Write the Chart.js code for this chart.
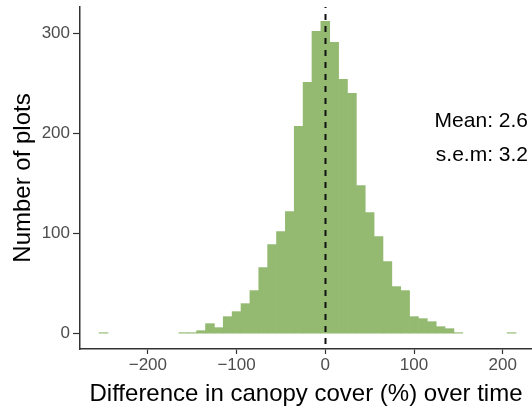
<!DOCTYPE html>
<html>
<head>
<meta charset="utf-8">
<script src="https://cdn.jsdelivr.net/npm/chart.js@4.4.0/dist/chart.umd.min.js"></script>
<style>
  html, body { margin: 0; padding: 0; background: #fff; }
  #chart { display: block; }
</style>
</head>
<body>
<canvas id="chart" width="532" height="414"></canvas>
<script>
// histogram bins (centre of each 10-unit bin) and counts
var binCenters = [-250, -160, -150, -140, -130, -120, -110, -100, -90, -80, -70, -60, -50, -40, -30, -20, -10, 0,
  10, 20, 30, 40, 50, 60, 70, 80, 90, 100, 110, 120, 130, 140, 150, 210];
var counts = [1, 1, 1, 3, 10, 6, 17, 22, 30, 43, 66, 89, 102, 122, 207, 251, 302, 312,
  291, 254, 240, 148, 121, 97, 72, 47, 43, 17, 15, 12, 7, 5, 1, 1];

var xTicks = [-200, -100, 0, 100, 200];
var yTicks = [0, 100, 200, 300];
var refLine = 0;
var statLines = ['Mean: 2.6', 's.e.m: 3.2'];

var FONT = "'Liberation Sans', Arial, Helvetica, sans-serif";
var AXIS = '#333333';

var histData = [];
for (var i = 0; i < binCenters.length; i++) {
  histData.push({x: binCenters[i], y: counts[i]});
}

// dashed reference line + the mean / s.e.m text
var extras = {
  id: 'extras',
  afterDatasetsDraw: function(chart) {
    var ctx = chart.ctx;
    var area = chart.chartArea;
    var xs = chart.scales.x;
    var px = Math.round(xs.getPixelForValue(refLine)) + 0.5;

    ctx.save();
    ctx.strokeStyle = '#111';
    ctx.lineWidth = 2;
    ctx.setLineDash([6, 6]);
    ctx.lineDashOffset = 5;
    ctx.beginPath();
    ctx.moveTo(px, area.top);
    ctx.lineTo(px, area.bottom);
    ctx.stroke();
    ctx.restore();

    ctx.save();
    ctx.fillStyle = '#000';
    ctx.font = '21px ' + FONT;
    ctx.textAlign = 'right';
    ctx.textBaseline = 'alphabetic';
    ctx.fillText(statLines[0], 528, 127);
    ctx.fillText(statLines[1], 528, 161);
    ctx.restore();
  }
};

new Chart(document.getElementById('chart'), {
  type: 'bar',
  data: {
    datasets: [{
      data: histData,
      backgroundColor: 'rgb(148,186,114)',
      borderWidth: 0,
      barPercentage: 1,
      categoryPercentage: 1
    }]
  },
  options: {
    responsive: false,
    animation: false,
    layout: { padding: { top: 7, right: 0, left: 0, bottom: 0 } },
    plugins: {
      legend: { display: false },
      tooltip: { enabled: false }
    },
    scales: {
      x: {
        type: 'linear',
        offset: false,
        min: -276.5,
        max: 233,
        afterBuildTicks: function(scale) {
          scale.ticks = xTicks.map(function(v) { return {value: v}; });
        },
        afterFit: function(scale) {
          scale.height = 65;
          scale.paddingLeft = 0;
          scale.paddingRight = 0;
        },
        border: { display: true, color: AXIS, width: 1.5 },
        grid: { display: true, offset: false, drawOnChartArea: false, drawTicks: true, tickLength: 5, tickColor: AXIS, tickWidth: 1.2 },
        ticks: {
          color: '#4d4d4d',
          font: { family: FONT, size: 17 },
          padding: 1,
          maxRotation: 0,
          callback: function(v) { return v < 0 ? '\u2212' + Math.abs(v) : String(v); }
        },
        title: {
          display: true,
          text: 'Difference in canopy cover (%) over time',
          color: '#000',
          font: { family: FONT, size: 24 },
          padding: { top: 0, bottom: 5 }
        }
      },
      y: {
        min: -15.3,
        max: 326.2,
        afterBuildTicks: function(scale) {
          scale.ticks = yTicks.map(function(v) { return {value: v}; });
        },
        afterFit: function(scale) {
          scale.width = 80;
          scale.paddingTop = 0;
          scale.paddingBottom = 0;
        },
        border: { display: true, color: AXIS, width: 1.5 },
        grid: { display: true, drawOnChartArea: false, drawTicks: true, tickLength: 7, tickColor: AXIS, tickWidth: 1.2 },
        ticks: {
          color: '#4d4d4d',
          font: { family: FONT, size: 17 },
          padding: 3
        },
        title: {
          display: true,
          text: 'Number of plots',
          color: '#000',
          font: { family: FONT, size: 24 },
          padding: { top: 9, bottom: 0 }
        }
      }
    }
  },
  plugins: [extras]
});
</script>
</body>
</html>
